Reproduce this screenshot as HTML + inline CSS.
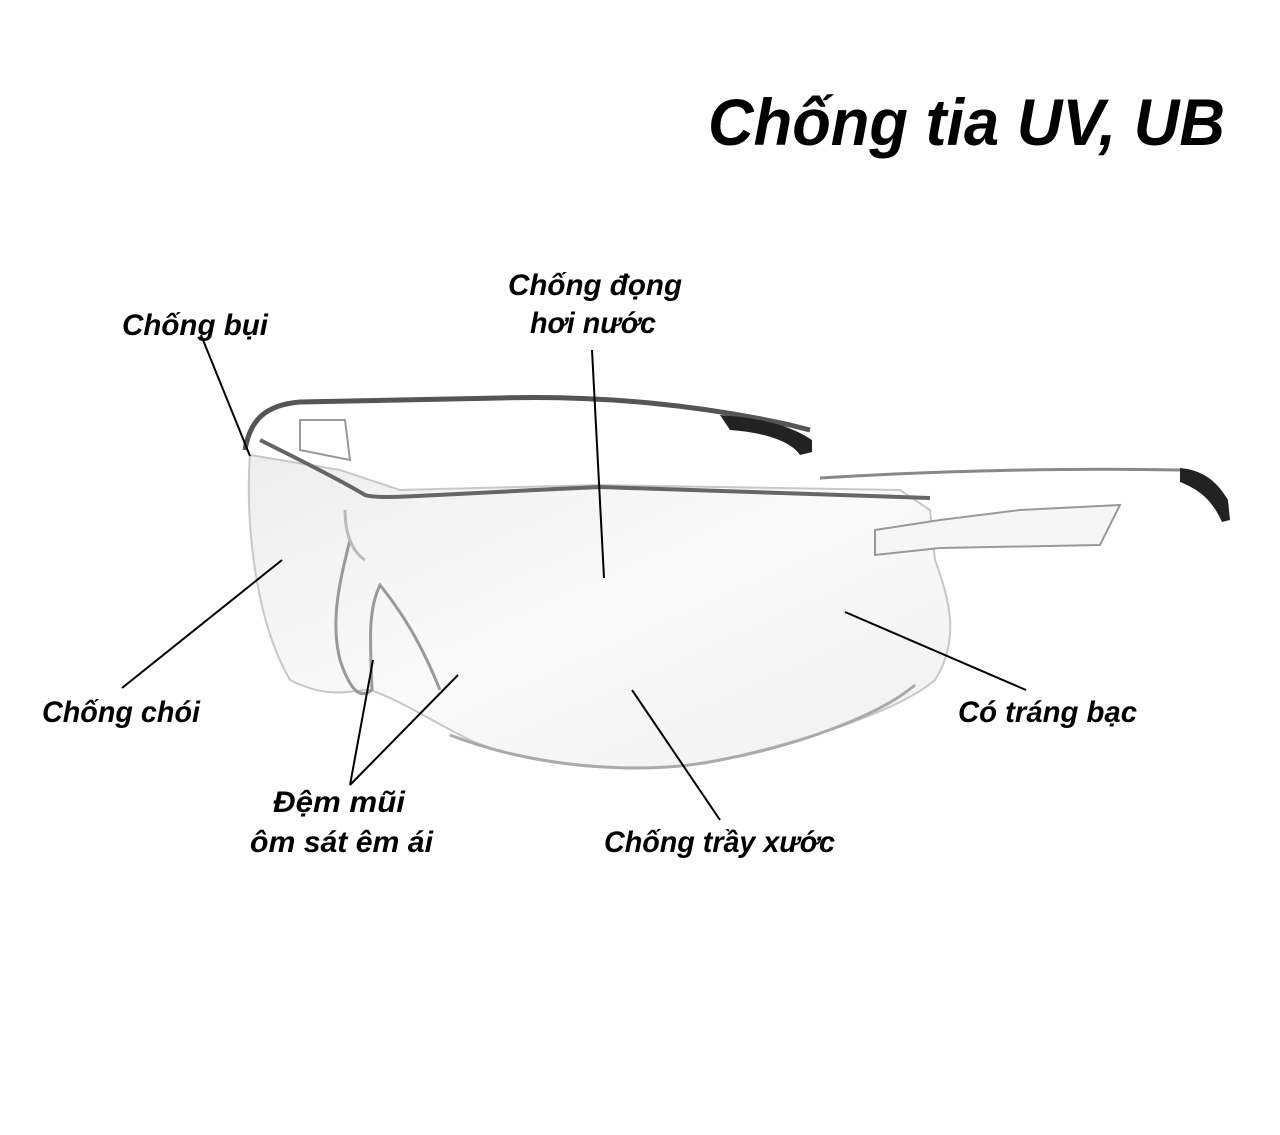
<!DOCTYPE html>
<html><head><meta charset="utf-8"><style>
html,body{margin:0;padding:0;background:#fff}
svg{display:block}
text{font-family:"Liberation Sans Narrow","Liberation Sans",sans-serif;font-weight:bold;font-style:italic;fill:#000}
</style></head><body>
<svg width="1280" height="1135" viewBox="0 0 1280 1135" xmlns="http://www.w3.org/2000/svg">
<defs>
<linearGradient id="lens" x1="0" y1="0" x2="1" y2="1">
<stop offset="0" stop-color="#eeeeee"/><stop offset="0.5" stop-color="#fafafa"/><stop offset="1" stop-color="#f0f0f0"/>
</linearGradient>
</defs>
<!-- lens -->
<path d="M250 455 C245 520 255 620 290 680 C330 700 350 690 370 690 C400 700 430 720 470 740 C540 770 650 775 720 760 C810 740 900 710 935 680 C960 640 950 600 935 560 L930 510 L900 490 L600 485 L400 490 L340 470 Z" fill="url(#lens)" stroke="#c8c8c8" stroke-width="2"/>
<path d="M450 735 C540 770 650 775 720 760 C800 745 880 715 915 685" fill="none" stroke="#aaa" stroke-width="3"/>
<!-- top frame -->
<path d="M245 450 C250 420 265 405 300 402 L500 398 C600 395 700 405 790 425 L810 430" fill="none" stroke="#555" stroke-width="5"/>
<path d="M260 440 C300 460 340 480 365 495 C380 500 420 495 600 487 L930 498" fill="none" stroke="#666" stroke-width="4"/>
<path d="M720 415 C760 418 790 425 812 440 L812 452 L800 455 C790 440 760 432 730 430 Z" fill="#222"/>
<!-- right arm -->
<path d="M820 478 C950 470 1080 468 1180 470" fill="none" stroke="#888" stroke-width="3"/>
<path d="M1180 468 C1200 470 1215 478 1228 500 L1230 520 L1222 522 C1212 500 1200 490 1180 482 Z" fill="#222"/>
<path d="M875 530 L940 520 L1020 510 L1120 505 L1100 545 L940 548 L875 555 Z" fill="#f6f6f6" stroke="#999" stroke-width="2"/>
<path d="M300 420 L345 420 L350 460 L300 450 Z" fill="none" stroke="#999" stroke-width="2"/>
<!-- nose -->
<path d="M350 540 C340 580 330 620 340 660 C350 690 360 700 372 690 C370 640 368 610 380 585 C400 610 420 640 440 690" fill="none" stroke="#999" stroke-width="3"/>
<path d="M345 510 C345 530 350 550 365 560" fill="none" stroke="#bbb" stroke-width="3"/>
<!-- leader lines -->
<g stroke="#000" stroke-width="2" fill="none">
<line x1="201" y1="335" x2="250" y2="456"/>
<line x1="592" y1="350" x2="604" y2="578"/>
<line x1="122" y1="688" x2="282" y2="560"/>
<line x1="350" y1="785" x2="373" y2="660"/>
<line x1="350" y1="785" x2="458" y2="675"/>
<line x1="720" y1="820" x2="632" y2="690"/>
<line x1="1026" y1="690" x2="845" y2="612"/>
</g>
<!-- labels -->
<text x="708" y="145" font-size="66" textLength="517" lengthAdjust="spacingAndGlyphs">Chống tia UV, UB</text>
<text x="122" y="335" font-size="30" textLength="146" lengthAdjust="spacingAndGlyphs">Chống bụi</text>
<text x="508" y="295" font-size="30" textLength="174" lengthAdjust="spacingAndGlyphs">Chống đọng</text>
<text x="530" y="333" font-size="30" textLength="126" lengthAdjust="spacingAndGlyphs">hơi nước</text>
<text x="42" y="722" font-size="30" textLength="158" lengthAdjust="spacingAndGlyphs">Chống chói</text>
<text x="273" y="812" font-size="30" textLength="132" lengthAdjust="spacingAndGlyphs">Đệm mũi</text>
<text x="250" y="852" font-size="30" textLength="183" lengthAdjust="spacingAndGlyphs">ôm sát êm ái</text>
<text x="604" y="852" font-size="30" textLength="231" lengthAdjust="spacingAndGlyphs">Chống trầy xước</text>
<text x="958" y="722" font-size="30" textLength="179" lengthAdjust="spacingAndGlyphs">Có tráng bạc</text>
</svg>
</body></html>
